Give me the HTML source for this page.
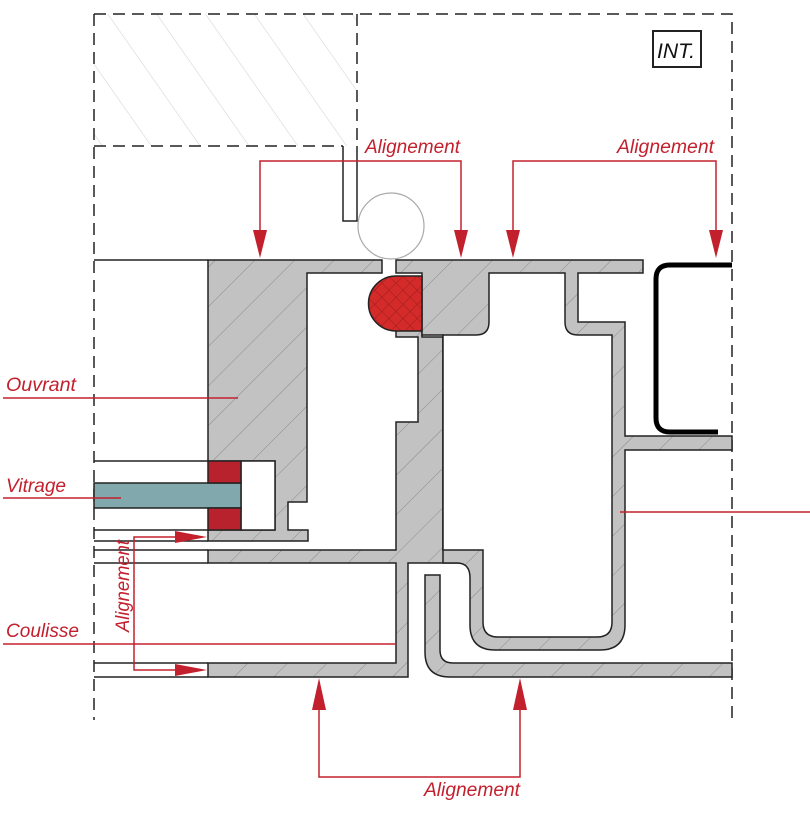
<!DOCTYPE html>
<html><head><meta charset="utf-8"><style>
html,body{margin:0;padding:0;background:#fff;}
svg{display:block;}
text{font-family:"Liberation Sans",sans-serif;font-style:italic;fill:#c3202e;}
</style></head><body>
<svg width="810" height="820" viewBox="0 0 810 820" xmlns="http://www.w3.org/2000/svg">
<defs>
<pattern id="h" patternUnits="userSpaceOnUse" width="28" height="28" patternTransform="rotate(45)">
<rect width="28" height="28" fill="#c2c2c2"/>
<line x1="0" y1="0" x2="0" y2="28" stroke="#8a8a8a" stroke-width="1"/>
</pattern>
<pattern id="h2" patternUnits="userSpaceOnUse" width="40" height="40" patternTransform="rotate(-35)">
<line x1="0" y1="0" x2="0" y2="40" stroke="#cfcfcf" stroke-width="1"/>
</pattern>
<pattern id="x" patternUnits="userSpaceOnUse" width="10" height="10" patternTransform="rotate(45)">
<rect width="10" height="10" fill="#d42a2a"/>
<path d="M0 0V10M0 0H10" stroke="#8a1a1a" stroke-width="0.8"/>
</pattern>
</defs>

<rect x="94" y="14" width="263" height="132" fill="url(#h2)"/>
<g fill="none" stroke="#222" stroke-width="1.5" stroke-dasharray="12,7">
<path d="M94 14H732V720"/>
<path d="M94 14V720"/>
<path d="M357 14V146"/>
<path d="M94 146H343"/>
</g>
<path d="M343 146V221H357V146" fill="none" stroke="#222" stroke-width="1.5"/>
<circle cx="391" cy="226" r="33" fill="#fff" stroke="#aaa" stroke-width="1.2"/>

<rect x="653" y="31" width="48" height="36" fill="#fff" stroke="#222" stroke-width="2"/>
<text x="657" y="58" font-size="21" textLength="38" lengthAdjust="spacingAndGlyphs" style="fill:#111">INT.</text>

<g stroke="#222" stroke-width="1.5">
<line x1="94" y1="260" x2="208" y2="260"/>
<line x1="94" y1="461" x2="208" y2="461"/>
<line x1="94" y1="530" x2="208" y2="530"/>
<line x1="94" y1="541" x2="208" y2="541"/>
<line x1="94" y1="550" x2="208" y2="550"/>
<line x1="94" y1="563" x2="208" y2="563"/>
<line x1="94" y1="663" x2="208" y2="663"/>
<line x1="94" y1="677" x2="208" y2="677"/>
</g>

<g stroke="#222" stroke-width="1.5" stroke-linejoin="miter">
<path fill="url(#h)" d="M208 260H382V273H307V502H288V530H308V541H208V530H275V461H208Z"/>
<path fill="url(#h)" d="M208 550H396V422H418V337H396V330H422V337H443V550H483V563H408V677H208V663H396V563H208Z"/>
<path fill="url(#h)" d="M396 260H643V273H578V322H625V436H732V450H625V625Q625 650 600 650H495Q470 650 470 625V578Q470 563 457 563H443V335H422V273H396Z"/>
<path fill="url(#h)" d="M425 575H440V650Q440 663 453 663H732V677H450Q425 677 425 652Z"/>
</g>
<g fill="#fff" stroke="#222" stroke-width="1.5">
<path d="M489 273H565V322Q565 335 578 335H612V622Q612 637 597 637H498Q483 637 483 622V550H443V335H476Q489 335 489 322Z"/>
</g>
<path d="M422 276V331H396A27 27 0 0 1 396 276Z" fill="url(#x)" stroke="#222" stroke-width="1.5"/>
<rect x="241" y="461" width="34" height="69" fill="#fff" stroke="#222" stroke-width="1.5"/>
<rect x="94" y="483" width="147" height="25" fill="#81a9ad" stroke="#222" stroke-width="1.5"/>
<rect x="208" y="461" width="33" height="22" fill="#b8222c" stroke="#222" stroke-width="1.5"/>
<rect x="208" y="508" width="33" height="22" fill="#b8222c" stroke="#222" stroke-width="1.5"/>

<path d="M732 265H670Q656 265 656 279V418Q656 432 670 432H718" fill="none" stroke="#000" stroke-width="5"/>

<g stroke="#c3202e" stroke-width="1.5" fill="none">
<path d="M260 230V161H461V230"/>
<path d="M513 230V161H716V230"/>
<path d="M319 708V777H520V708"/>
<path d="M190 537H134V670H190"/>
<line x1="3" y1="398" x2="238" y2="398"/>
<line x1="3" y1="498" x2="121" y2="498"/>
<line x1="3" y1="644" x2="396" y2="644"/>
<line x1="620" y1="512" x2="810" y2="512"/>
</g>
<g fill="#c3202e">
<path d="M253 230H267L260 258Z"/>
<path d="M454 230H468L461 258Z"/>
<path d="M506 230H520L513 258Z"/>
<path d="M709 230H723L716 258Z"/>
<path d="M312 710H326L319 678Z"/>
<path d="M513 710H527L520 678Z"/>
<path d="M175 531V543L207 537Z"/>
<path d="M175 664V676L207 670Z"/>
</g>
<text x="365" y="153" font-size="19" textLength="95" lengthAdjust="spacingAndGlyphs">Alignement</text>
<text x="617" y="153" font-size="19" textLength="97" lengthAdjust="spacingAndGlyphs">Alignement</text>
<text x="424" y="796" font-size="19" textLength="96" lengthAdjust="spacingAndGlyphs">Alignement</text>
<text x="6" y="391" font-size="19" textLength="70" lengthAdjust="spacingAndGlyphs">Ouvrant</text>
<text x="6" y="492" font-size="19" textLength="60" lengthAdjust="spacingAndGlyphs">Vitrage</text>
<text x="6" y="637" font-size="19" textLength="73" lengthAdjust="spacingAndGlyphs">Coulisse</text>
<text transform="translate(129,632) rotate(-90)" font-size="19" textLength="92" lengthAdjust="spacingAndGlyphs">Alignement</text>
</svg>
</body></html>
